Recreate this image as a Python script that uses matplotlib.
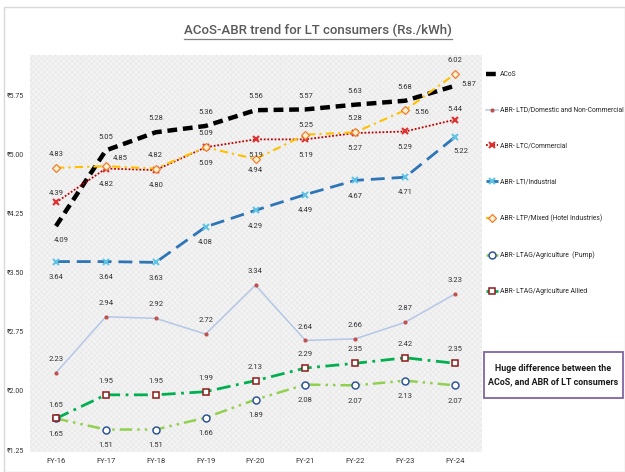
import matplotlib
matplotlib.use("Agg")
import matplotlib.pyplot as plt
from matplotlib.lines import Line2D
from matplotlib.patches import Rectangle

plt.rcParams['font.family'] = ['Roboto', 'DejaVu Sans']
plt.rcParams['hatch.linewidth'] = 0.3

years = ['FY-16', 'FY-17', 'FY-18', 'FY-19', 'FY-20', 'FY-21', 'FY-22', 'FY-23', 'FY-24']
acos = [4.09, 5.05, 5.28, 5.36, 5.56, 5.57, 5.63, 5.68, 5.87]
ltd = [2.23, 2.94, 2.92, 2.72, 3.34, 2.64, 2.66, 2.87, 3.23]
ltc = [4.39, 4.82, 4.80, 5.09, 5.19, 5.19, 5.27, 5.29, 5.44]
lti = [3.64, 3.64, 3.63, 4.08, 4.29, 4.49, 4.67, 4.71, 5.22]
ltp = [4.83, 4.85, 4.82, 5.09, 4.94, 5.25, 5.28, 5.56, 6.02]
pump = [1.65, 1.51, 1.51, 1.66, 1.89, 2.08, 2.07, 2.13, 2.07]
allied = [1.65, 1.95, 1.95, 1.99, 2.13, 2.29, 2.35, 2.42, 2.35]
yticks = [1.25, 2.00, 2.75, 3.50, 4.25, 5.00, 5.75]

fig = plt.figure(figsize=(6.25, 4.72), dpi=100)
ax = fig.add_axes([30/625, 20/472, 452/625, 397/472])
x = list(range(len(years)))

# faint textured plot area
ax.set_facecolor('#f3f3f3')
ax.add_patch(Rectangle((0, 0), 1, 1, transform=ax.transAxes, facecolor='none',
                       edgecolor='#e3e3e3', hatch='xxxxxx', lw=0, zorder=0))
for i in x:
    ax.axvline(i - 0.5, color='#e6e6e6', lw=0.6, ls=':', zorder=1)

UP, DN = (0, 10), (0, -11)

series = [
    ('ACoS', acos, dict(color='black', lw=3.2, ls=(0, (2.2, 1.3))),
     [(4, -10)] + [UP] * 7 + [(10, 1)]),
    ('ABR- LTD/Domestic and Non-Commercial', ltd,
     dict(color='#b4c7e7', lw=1.1, marker='o', ms=2, mfc='#c0504d', mec='#c0504d'),
     [UP] * 9),
    ('ABR- LTC/Commercial', ltc,
     dict(color='#c00000', lw=1.3, ls=(0, (1, 1)), marker='x', ms=5, mew=1.5, mec='#e03030'),
     [(0, 7)] + [DN] * 7 + [(0, 8)]),
    ('ABR- LTI/Industrial', lti,
     dict(color='#2e75b6', lw=2.0, ls=(0, (5, 2.5)), marker='x', ms=5, mew=1.5, mec='#5fc4e6'),
     [DN] * 8 + [(4, -10)]),
    ('ABR- LTP/Mixed (Hotel Industries)', ltp,
     dict(color='#ffc000', lw=1.5, ls=(0, (4, 2, 1, 2)), marker='D', ms=4, mfc='#fff2cc', mec='#ed7d31', mew=0.9),
     [UP, (10, 6), UP, UP, (0, -8), (0, 7), UP, (12, -1), UP]),
    ('ABR- LTAG/Agriculture  (Pump)', pump,
     dict(color='#92d050', lw=1.8, ls=(0, (5, 2, 1, 2, 1, 2)), marker='o', ms=5, mfc='white', mec='#2f5597', mew=1.1),
     [DN] * 9),
    ('ABR- LTAG/Agriculture Allied', allied,
     dict(color='#00b050', lw=2.0, ls=(0, (5, 2, 1, 2)), marker='s', ms=5, mfc='white', mec='#8b1a1a', mew=1.1),
     [UP] * 9),
]

handles = []
for name, vals, style, offs in series:
    h, = ax.plot(x, vals, label=name, zorder=3, **style)
    handles.append(h)
    for xi, v, off in zip(x, vals, offs):
        ax.annotate(f'{v:.2f}', (xi, v), xytext=off, textcoords='offset points',
                    ha='center', va='center', fontsize=5.5, color='#333333', zorder=4)

ax.set_xlim(-0.52, 8.54)
ax.set_ylim(1.225, 6.26)
ax.set_xticks(x)
ax.set_xticklabels(years, fontsize=5.5, color='#333333')
ax.set_yticks(yticks)
ax.set_yticklabels([f'₹{t:.2f}' for t in yticks], fontsize=5, color='#333333')
ax.tick_params(length=0, pad=4)
for s in ax.spines.values():
    s.set_visible(False)

fig.legend(handles=handles, loc='upper left', bbox_to_anchor=(486/625, 1 - 71/472),
           frameon=False, fontsize=4.9, labelspacing=4.25, handlelength=1.8,
           handletextpad=0.3, borderaxespad=0, borderpad=0, labelcolor='#262626')

title = fig.text(318/625, 1 - 30/472, 'ACoS-ABR trend for LT consumers (Rs./kWh)',
                 ha='center', va='center', fontsize=9.5, fontweight='medium', color='#595959')
fig.canvas.draw()
bb = title.get_window_extent().transformed(fig.transFigure.inverted())
fig.add_artist(Line2D([bb.x0, bb.x1], [bb.y0 - 0.004, bb.y0 - 0.004],
                      transform=fig.transFigure, color='#7f7f7f', lw=0.9))

# note box
fig.add_artist(Rectangle((484/625, 1 - 398/472), 139/625, 46/472, transform=fig.transFigure,
                         facecolor='white', edgecolor='#8064a2', lw=1.3))
fig.text(553/625, 1 - 375/472, 'Huge difference between the\nACoS, and ABR of LT consumers',
         ha='center', va='center', fontsize=6.4, fontweight='bold', color='#1a1a1a',
         linespacing=1.6)

# outer frame
fig.add_artist(Rectangle((4/625, 0), 1 - 4/625, 1 - 7/472, transform=fig.transFigure,
                         facecolor='none', edgecolor='#d9d9d9', lw=1))

fig.savefig('out.png', dpi=100)
